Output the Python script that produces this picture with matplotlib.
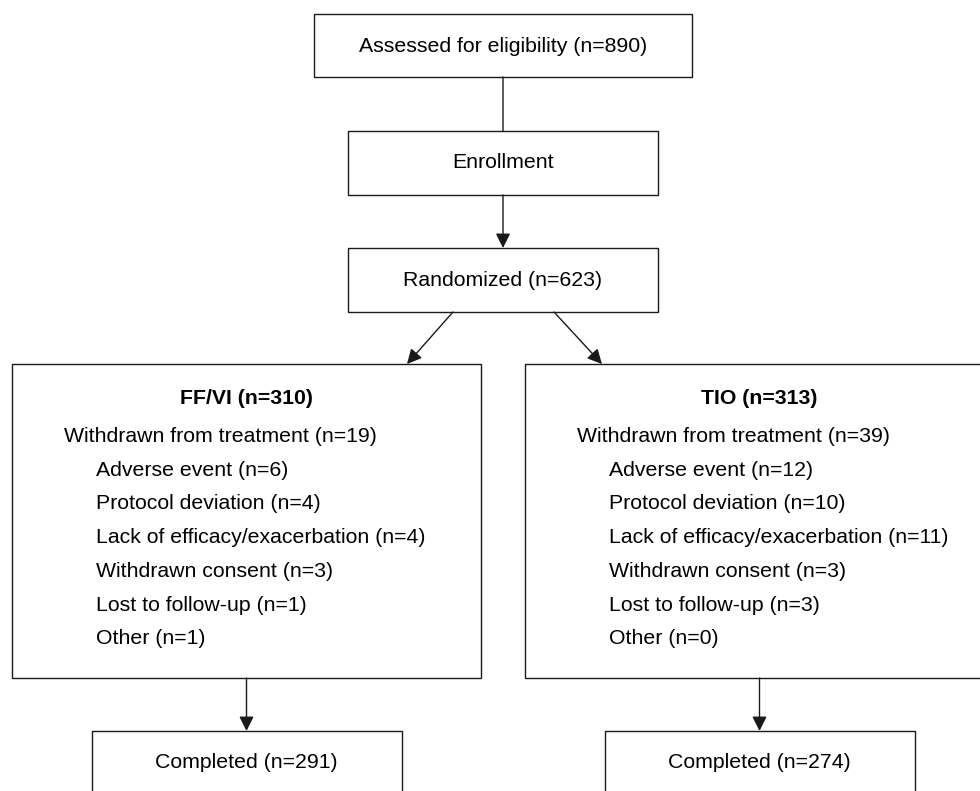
import matplotlib
matplotlib.use('Agg')
import matplotlib.pyplot as plt
from matplotlib.patches import Rectangle

plt.rcParams['font.family'] = ['Liberation Sans', 'DejaVu Sans']

# flow numbers
assessed_n = 890
randomized_n = 623
arms = ['FF/VI', 'TIO']
arm_n = [310, 313]
withdrawn_n = [19, 39]
reasons = ['Adverse event', 'Protocol deviation', 'Lack of efficacy/exacerbation',
           'Withdrawn consent', 'Lost to follow-up', 'Other']
reason_counts = [
    [6, 4, 4, 3, 1, 1],
    [12, 10, 11, 3, 3, 0],
]
completed_n = [291, 274]

W, H = 980, 791
fs = 15.3
lc = '#1a1a1a'
lw = 1.0

fig = plt.figure(figsize=(W / 100, H / 100), dpi=100)
ax = fig.add_axes([0, 0, 1, 1])
ax.set_xlim(0, W)
ax.set_ylim(H, 0)
ax.axis('off')


def box(x0, y0, x1, y1):
    ax.add_patch(Rectangle((x0, y0), x1 - x0, y1 - y0, fill=False,
                           edgecolor=lc, linewidth=lw, clip_on=True))


def arrow(x0, y0, x1, y1, head=True):
    ax.annotate('', xy=(x1, y1), xytext=(x0, y0),
                arrowprops=dict(arrowstyle='-|>' if head else '-', color=lc,
                                lw=lw, mutation_scale=22,
                                shrinkA=0, shrinkB=0))


cx = 503
# top column
box(314, 14, 692, 77)
ax.text(cx, 46, f'Assessed for eligibility (n={assessed_n})', fontsize=fs,
        ha='center', va='center')
arrow(cx, 77, cx, 131, head=False)
box(348, 131, 658, 195)
ax.text(cx, 163, 'Enrollment', fontsize=fs, ha='center', va='center')
arrow(cx, 195, cx, 248)
box(348, 248, 658, 312)
ax.text(cx, 280, f'Randomized (n={randomized_n})', fontsize=fs,
        ha='center', va='center')

# arm boxes
arm_left = [12, 525]
arm_w = 469
arrow(453, 312, 407, 364)
arrow(554, 312, 602, 364)

for i in range(len(arms)):
    x0 = arm_left[i]
    mid = x0 + arm_w / 2
    box(x0, 364, x0 + arm_w, 678)
    ax.text(mid, 398, f'{arms[i]} (n={arm_n[i]})', fontsize=fs,
            fontweight='bold', ha='center', va='center')
    ax.text(x0 + 52, 436, f'Withdrawn from treatment (n={withdrawn_n[i]})',
            fontsize=fs, ha='left', va='center')
    for k, r in enumerate(reasons):
        ax.text(x0 + 84, 470 + 33.8 * k, f'{r} (n={reason_counts[i][k]})',
                fontsize=fs, ha='left', va='center')
    arrow(mid, 678, mid, 731)
    box(mid - 155, 731, mid + 155, 794)
    ax.text(mid, 763, f'Completed (n={completed_n[i]})', fontsize=fs,
            ha='center', va='center')

fig.savefig('out.png', dpi=100, facecolor='white')
